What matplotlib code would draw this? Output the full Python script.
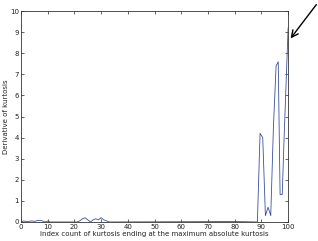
import matplotlib
matplotlib.use("Agg")
import matplotlib.pyplot as plt

x_vals = [0, 1, 2, 3, 4, 5, 6, 7, 8, 9, 10, 11, 12,
          20, 21, 22, 23, 24, 25, 26, 27, 28, 29, 30, 31, 32, 33, 34,
          80, 88.5, 89.5, 90.5, 91.5, 92.5, 93.5, 94.5, 95.5, 96.3, 97, 97.8, 98.5, 100]
y_vals = [0, 0.05, 0.02, 0.03, 0.05, 0.03, 0.06, 0.08, 0.05, 0, 0.04, 0, 0,
          0, 0, 0.05, 0.15, 0.2, 0.1, 0, 0.1, 0.15, 0.1, 0.2, 0.1, 0.05, 0, 0,
          0.02, 0, 4.2, 4.0, 0.3, 0.7, 0.3, 4.5, 7.4, 7.6, 1.3, 1.3, 4.0, 9.2]
x_ticks = [0, 10, 20, 30, 40, 50, 60, 70, 80, 90, 100]
y_ticks = [0, 1, 2, 3, 4, 5, 6, 7, 8, 9, 10]

fig = plt.figure(figsize=(3.18, 2.41), dpi=100)
ax = fig.add_axes([0.066, 0.079, 0.84, 0.875])
ax.plot(x_vals, y_vals, color="#3a4f9a", lw=0.6)
ax.set_xlim(0, 100)
ax.set_ylim(0, 10)
ax.set_xticks(x_ticks)
ax.set_yticks(y_ticks)
ax.tick_params(direction="in", length=2.5, width=0.5, labelsize=5, colors="#222222",
               top=True, right=True, pad=1.5)
for s in ax.spines.values():
    s.set_linewidth(0.6)
    s.set_color("#333333")
ax.set_xlabel("index count of kurtosis ending at the maximum absolute kurtosis", fontsize=5, labelpad=0.5, color="#222222")
ax.set_ylabel("Derivative of kurtosis", fontsize=5, labelpad=1, color="#222222")
ax.annotate("", xy=(100.3, 8.6), xycoords="data", xytext=(1.0, 0.99), textcoords="figure fraction",
            arrowprops=dict(arrowstyle="->", color="black", lw=1.0, mutation_scale=12),
            annotation_clip=False)
fig.savefig("out.png", dpi=100)
